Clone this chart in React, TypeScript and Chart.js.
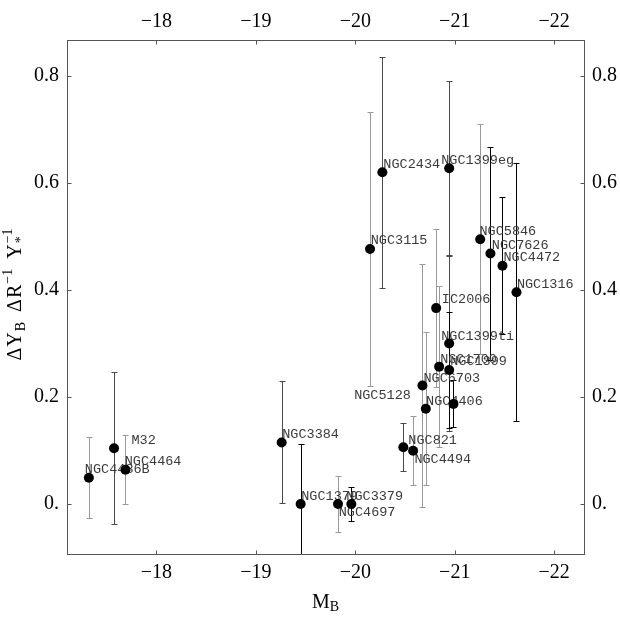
import React, { useEffect, useRef } from "react";
import { Chart, registerables } from "chart.js";

Chart.register(...registerables);

// ---- data ----
const galaxies = [
  "NGC4486B", "M32", "NGC4464", "NGC3384", "NGC1379", "NGC4697", "NGC3379",
  "NGC821", "NGC4494", "NGC4406", "NGC5128", "NGC6703", "IC2006", "NGC1700",
  "NGC1399ti", "NGC1399", "NGC1399eg", "NGC2434", "NGC3115", "NGC5846",
  "NGC7626", "NGC4472", "NGC1316",
];
const absMagB = [
  -17.32, -17.573, -17.688, -19.259, -19.45, -19.826, -19.96,
  -20.483, -20.581, -20.709, -20.987, -20.675, -20.813, -20.843,
  -20.944, -20.944, -20.944, -20.272, -20.148, -21.256,
  -21.359, -21.48, -21.621,
];
const gradient = [
  0.049, 0.104, 0.064, 0.115, 0.0, 0.0, 0.0,
  0.106, 0.0996, 0.178, 0.187, 0.2215, 0.366, 0.2566,
  0.3, 0.2505, 0.6275, 0.62, 0.4766, 0.4948,
  0.468, 0.445, 0.3957,
];
const gradientErr = [
  0.076, 0.142, 0.065, 0.114, 0.112, 0.052, 0.031,
  0.045, 0.064, 0.143, 0.044, 0.227, 0.147, 0.151,
  0.163, 0.109, 0.162, 0.216, 0.256, 0.215,
  0.199, 0.128, 0.241,
];
// error-bar group (0, 1, 2) as shaded in the reference
const errGroup = [
  2, 1, 2, 1, 0, 2, 0,
  1, 2, 2, 0, 2, 2, 2,
  1, 0, 1, 1, 2, 2,
  0, 0, 0,
];
const xTickValues = [-18, -19, -20, -21, -22];
const yTickValues = [0, 0.2, 0.4, 0.6, 0.8];

// ---- layout / style ----
const labelOffsets: [number, number][] = [
  [-4, -8], [17.4, -7.6], [-0.7, -8], [0.6, -8], [0.6, -7.7], [0.7, 8.7], [-5, -7.7],
  [5, -7.3], [1.3, 8.6], [0.3, -7.6], [-99.3, -8], [1, -7.4], [5.7, -8.7], [1, -7.4],
  [-8, -7.3], [1, -8.3], [-8, -7.6], [1, -8], [0.7, -8], [-0.7, -7.6],
  [1.4, -7.7], [1, -8], [0.4, -8],
];
const groupColors = ["#000000", "#4a4a4a", "#9a9a9a"];
const FRAME = "#555555";
const SERIF = "'Liberation Serif', 'DejaVu Serif', serif";
const MONO = "'Liberation Mono', 'DejaVu Sans Mono', monospace";

const fmtX = (v: number) => (v < 0 ? "\u2212" + Math.abs(v) : String(v));
const fmtY = (v: number) => (v === 0 ? "0." : v.toFixed(1));

const decorPlugin = {
  id: "decor",
  beforeDatasetsDraw(chart: any) {
    const { ctx, chartArea: a } = chart;
    const x = chart.scales.x;
    const y = chart.scales.y;
    ctx.save();
    ctx.beginPath();
    ctx.rect(a.left, a.top, a.right - a.left, a.bottom - a.top);
    ctx.clip();
    ctx.lineWidth = 1;
    absMagB.forEach((m, i) => {
      const px = Math.round(x.getPixelForValue(m)) + 0.5;
      const yt = Math.round(y.getPixelForValue(gradient[i] + gradientErr[i])) + 0.5;
      const yb = Math.round(y.getPixelForValue(gradient[i] - gradientErr[i])) + 0.5;
      ctx.strokeStyle = groupColors[errGroup[i]];
      ctx.beginPath();
      ctx.moveTo(px, yt);
      ctx.lineTo(px, yb);
      ctx.moveTo(px - 3, yt);
      ctx.lineTo(px + 3, yt);
      ctx.moveTo(px - 3, yb);
      ctx.lineTo(px + 3, yb);
      ctx.stroke();
    });
    ctx.restore();

    ctx.save();
    ctx.font = `13.5px ${MONO}`;
    ctx.fillStyle = "#3a3a3a";
    ctx.textBaseline = "middle";
    ctx.textAlign = "left";
    galaxies.forEach((n, i) => {
      const px = x.getPixelForValue(absMagB[i]) + labelOffsets[i][0];
      const py = y.getPixelForValue(gradient[i]) + labelOffsets[i][1];
      ctx.fillText(n, px, py);
    });
    ctx.restore();
  },
  afterDraw(chart: any) {
    const { ctx, chartArea: a } = chart;
    const x = chart.scales.x;
    const y = chart.scales.y;
    ctx.save();
    ctx.strokeStyle = FRAME;
    ctx.lineWidth = 1;
    const L = Math.round(a.left) + 0.5;
    const R = Math.round(a.right) + 0.5;
    const T = Math.round(a.top) + 0.5;
    const B = Math.round(a.bottom) + 0.5;
    ctx.strokeRect(L, T, R - L, B - T);
    ctx.beginPath();
    xTickValues.forEach((v) => {
      const p = Math.round(x.getPixelForValue(v)) + 0.5;
      ctx.moveTo(p, B);
      ctx.lineTo(p, B - 4);
      ctx.moveTo(p, T);
      ctx.lineTo(p, T + 4);
    });
    yTickValues.forEach((v) => {
      const p = Math.round(y.getPixelForValue(v)) + 0.5;
      ctx.moveTo(L, p);
      ctx.lineTo(L + 4, p);
      ctx.moveTo(R, p);
      ctx.lineTo(R - 4, p);
    });
    ctx.stroke();

    // x title: M_B
    ctx.fillStyle = "#000";
    ctx.textBaseline = "alphabetic";
    ctx.textAlign = "left";
    const cx = (a.left + a.right) / 2;
    ctx.font = `20px ${SERIF}`;
    const wM = ctx.measureText("M").width;
    ctx.font = `14px ${SERIF}`;
    const wB = ctx.measureText("B").width;
    const sx = cx - (wM + wB) / 2;
    ctx.font = `20px ${SERIF}`;
    ctx.fillText("M", sx, 608);
    ctx.font = `14px ${SERIF}`;
    ctx.fillText("B", sx + wM, 611);

    // y title: ΔΥ_B ΔR^-1 Υ_*^-1 (rotated)
    const cy = (a.top + a.bottom) / 2 - 3;
    ctx.translate(21, cy);
    ctx.rotate(-Math.PI / 2);
    type Piece = { t: string; size: number; dy: number; adv: number };
    const pieces: Piece[] = [
      { t: "\u0394", size: 20, dy: 0, adv: 1 },
      { t: "\u03A5", size: 20, dy: 0, adv: 1 },
      { t: "B", size: 14, dy: 4, adv: 1 },
      { t: "", size: 20, dy: 0, adv: 9 },
      { t: "\u0394", size: 20, dy: 0, adv: 1 },
      { t: "R", size: 20, dy: 0, adv: 1 },
      { t: "\u22121", size: 14, dy: -9, adv: 1 },
      { t: "", size: 20, dy: 0, adv: 9 },
      { t: "\u03A5", size: 20, dy: 0, adv: 1 },
      { t: "*", size: 14, dy: 4, adv: 0 },
      { t: "\u22121", size: 14, dy: -9, adv: 1 },
    ];
    const widthOf = (p: Piece) => {
      ctx.font = `${p.size}px ${SERIF}`;
      return p.t === "" ? p.adv : p.adv * (ctx.measureText(p.t).width + 1);
    };
    let total = 0;
    pieces.forEach((p) => { total += widthOf(p); });
    let u = -total / 2;
    pieces.forEach((p) => {
      const w = widthOf(p);
      ctx.font = `${p.size}px ${SERIF}`;
      if (p.t) ctx.fillText(p.t, u, p.dy);
      u += w;
    });
    ctx.restore();
  },
};

const X_MIN = -22.3;
const X_MAX = -17.1;
const Y_MIN = -0.0935;
const Y_MAX = 0.867;

export default function App() {
  const ref = useRef<HTMLCanvasElement | null>(null);
  useEffect(() => {
    if (!ref.current) return;
    const tickFont = { family: SERIF, size: 20 };
    const setX = (s: any) => {
      s.ticks = xTickValues.map((v) => ({ value: v }));
    };
    const setY = (s: any) => {
      s.ticks = yTickValues.map((v) => ({ value: v }));
    };
    const chart = new Chart(ref.current, {
      type: "scatter",
      data: {
        datasets: [
          {
            data: absMagB.map((m, i) => ({ x: m, y: gradient[i] })),
            backgroundColor: "#000",
            borderColor: "#000",
            borderWidth: 0,
            pointRadius: 5,
            pointHoverRadius: 5,
            xAxisID: "x",
            yAxisID: "y",
          },
        ],
      },
      options: {
        responsive: false,
        animation: false,
        events: [],
        layout: { padding: 0 },
        plugins: { legend: { display: false }, tooltip: { enabled: false } },
        scales: {
          x: {
            type: "linear",
            position: "bottom",
            reverse: true,
            min: X_MIN,
            max: X_MAX,
            afterBuildTicks: setX,
            afterFit: (s: any) => { s.height = 66; },
            grid: { display: false, drawTicks: false },
            border: { display: false },
            ticks: { font: tickFont, color: "#000", padding: 7, maxRotation: 0, callback: (v: any) => fmtX(Number(v)) },
          },
          x2: {
            type: "linear",
            position: "top",
            reverse: true,
            min: X_MIN,
            max: X_MAX,
            afterBuildTicks: setX,
            afterFit: (s: any) => { s.height = 40; },
            grid: { display: false, drawTicks: false },
            border: { display: false },
            ticks: { font: tickFont, color: "#000", padding: 6, maxRotation: 0, callback: (v: any) => fmtX(Number(v)) },
          },
          y: {
            type: "linear",
            position: "left",
            min: Y_MIN,
            max: Y_MAX,
            afterBuildTicks: setY,
            afterFit: (s: any) => { s.width = 67; },
            grid: { display: false, drawTicks: false },
            border: { display: false },
            ticks: { font: tickFont, color: "#000", padding: 8, callback: (v: any) => fmtY(Number(v)) },
          },
          y2: {
            type: "linear",
            position: "right",
            min: Y_MIN,
            max: Y_MAX,
            afterBuildTicks: setY,
            afterFit: (s: any) => { s.width = 36; },
            grid: { display: false, drawTicks: false },
            border: { display: false },
            ticks: { font: tickFont, color: "#000", padding: 8, callback: (v: any) => fmtY(Number(v)) },
          },
        },
      } as any,
      plugins: [decorPlugin],
    });
    return () => chart.destroy();
  }, []);
  return (
    <div style={{ position: "absolute", left: 0, top: 0, width: 620, height: 620, background: "#fff" }}>
      <canvas ref={ref} width={620} height={620} style={{ display: "block" }} />
    </div>
  );
}
